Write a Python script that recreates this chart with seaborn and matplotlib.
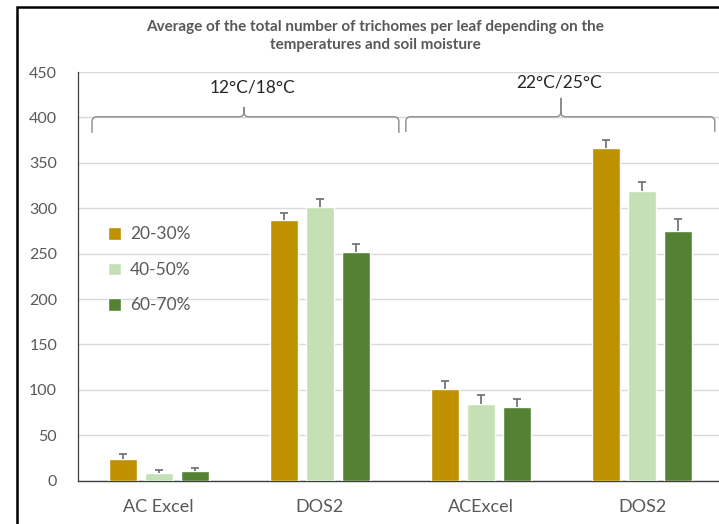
import matplotlib
matplotlib.use("Agg")
import matplotlib.pyplot as plt
from matplotlib.path import Path
from matplotlib.patches import PathPatch, Rectangle
import numpy as np
import pandas as pd
import seaborn as sns

# ---- data -------------------------------------------------------------
genotypes = ["AC Excel", "DOS2", "ACExcel", "DOS2"]
temperatures = ["12°C/18°C", "12°C/18°C", "22°C/25°C", "22°C/25°C"]
moisture = ["20-30%", "40-50%", "60-70%"]

mean_20_30 = [24, 287, 101, 366]
mean_40_50 = [9, 301, 85, 319]
mean_60_70 = [11, 252, 81, 275]

err_20_30 = [5, 8, 9, 9]
err_40_50 = [3, 9, 9, 9.5]
err_60_70 = [3.5, 9, 9.5, 13]

colors = ["#BF9000", "#C5E0B4", "#548235"]
title = ("Average of the total number of trichomes per leaf depending on the\n"
         "temperatures and soil moisture")

# ---- long table -------------------------------------------------------
means = [mean_20_30, mean_40_50, mean_60_70]
errs = [err_20_30, err_40_50, err_60_70]
keys = [f"{t} {g}" for t, g in zip(temperatures, genotypes)]
rows = []
for m, vals, es in zip(moisture, means, errs):
    for k, v, e in zip(keys, vals, es):
        rows.append({"key": k, "moisture": m, "count": v, "err": e})
df = pd.DataFrame(rows)

# ---- style ------------------------------------------------------------
sns.set_theme(style="white")
plt.rcParams["font.family"] = ["Lato", "DejaVu Sans"]
grey_text = "#595959"

fig = plt.figure(figsize=(7.19, 5.24), dpi=100)
W, H = 719, 524
ax = fig.add_axes([78 / W, (H - 480.7) / H, 645 / W, (480.7 - 72) / H])

sns.barplot(data=df, x="key", y="count", hue="moisture", order=keys,
            hue_order=moisture, palette=colors, width=0.67, gap=0.22,
            errorbar=None, saturation=1, ax=ax, zorder=3)

# upper error bars (plus side only) on each bar
for cont, es in zip(ax.containers, errs):
    xs = [p.get_x() + p.get_width() / 2 for p in cont.patches]
    ys = [p.get_height() for p in cont.patches]
    _, caps, _ = ax.errorbar(xs, ys, yerr=[np.zeros(len(es)), es], fmt="none",
                             ecolor="#6b6b6b", elinewidth=1.2, capsize=3.2,
                             capthick=1.2, zorder=4)
    caps[0].set_visible(False)

ax.set_xlim(-0.5, len(keys) - 0.5)
ax.set_ylim(0, 450)
ax.set_yticks(np.arange(0, 451, 50))
ax.yaxis.grid(True, color="#d9d9d9", linewidth=1.0, zorder=0)
ax.set_axisbelow(True)
ax.set_xticks(range(len(keys)))
ax.set_xticklabels(genotypes)
ax.set_xlabel("")
ax.set_ylabel("")
ax.tick_params(axis="y", length=0, pad=15, labelsize=11.5, labelcolor=grey_text)
ax.tick_params(axis="x", length=0, pad=13, labelsize=13, labelcolor=grey_text)
for s in ["top", "right"]:
    ax.spines[s].set_visible(False)
ax.spines["left"].set_color("#404040")
ax.spines["left"].set_linewidth(0.9)
ax.spines["bottom"].set_color("#404040")
ax.spines["bottom"].set_linewidth(1.0)

leg = ax.legend(loc="upper left", bbox_to_anchor=(0.047, 0.622), frameon=False,
                fontsize=12.5, handlelength=0.75, handleheight=0.75,
                handletextpad=0.5, labelspacing=1.12, borderpad=0,
                borderaxespad=0)
for t in leg.get_texts():
    t.set_color(grey_text)


# ---- curly brackets over the temperature groups --------------------------
def brace(ax, x0, x1, xm, y_low, y_line, y_tip, rx=0.03, ry=5.5):
    verts = [
        (x0, y_low), (x0, y_line - ry),
        (x0, y_line), (x0 + rx, y_line),
        (xm - rx, y_line),
        (xm, y_line), (xm, y_line + ry),
        (xm, y_tip),
        (xm, y_line + ry),
        (xm, y_line), (xm + rx, y_line),
        (x1 - rx, y_line),
        (x1, y_line), (x1, y_line - ry),
        (x1, y_low),
    ]
    codes = [Path.MOVETO, Path.LINETO,
             Path.CURVE3, Path.CURVE3,
             Path.LINETO,
             Path.CURVE3, Path.CURVE3,
             Path.LINETO,
             Path.LINETO,
             Path.CURVE3, Path.CURVE3,
             Path.LINETO,
             Path.CURVE3, Path.CURVE3,
             Path.LINETO]
    ax.add_patch(PathPatch(Path(verts, codes), fill=False, lw=1.0,
                           edgecolor="#8c8c8c", clip_on=False, zorder=5))


brace(ax, -0.413, 1.49, 0.529, 383, 400.7, 411.6)
brace(ax, 1.533, 3.449, 2.494, 384, 400.7, 421.5)
ax.text(0.58, 432.5, temperatures[0], ha="center", va="center",
        fontsize=12.5, color="#262626")
ax.text(2.482, 438, temperatures[2], ha="center", va="center",
        fontsize=12.5, color="#262626")

# ---- title and outer frame --------------------------------------------------
fig.text(375 / W, 1 - 36 / H, title, ha="center", va="center",
         fontsize=11, fontweight="bold", color=grey_text, linespacing=1.35)
fig.add_artist(Rectangle((17 / W, -0.1), 1.2, 1.1 - 7 / H,
                         transform=fig.transFigure, fill=False,
                         edgecolor="black", linewidth=1.8))

fig.savefig("out.png", dpi=100)
